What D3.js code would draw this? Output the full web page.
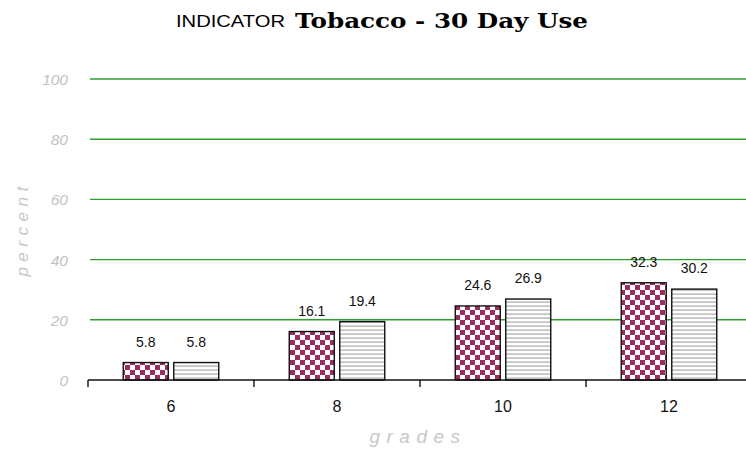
<!DOCTYPE html>
<html>
<head>
<meta charset="utf-8">
<script src="https://cdn.jsdelivr.net/npm/d3@7"></script>
<style>
  html, body { margin: 0; padding: 0; background: #fff; }
  svg { display: block; }
</style>
</head>
<body>
<svg id="chart" width="746" height="451"></svg>
<script>
// Tobacco use in the past 30 days, by grade
const grades = ["6", "8", "10", "12"];
const seriesA = [5.8, 16.1, 24.6, 32.3];   // checkered bars
const seriesB = [5.8, 19.4, 26.9, 30.2];   // striped bars
const yTicks = [0, 20, 40, 60, 80, 100];

const svg = d3.select("#chart");
const W = 746, H = 451;
const left = 88, bandW = 166, y0 = 380, y100 = 79;
const sans = "Arial, 'Liberation Sans', sans-serif";

const x = d3.scaleBand().domain(grades).range([left, left + bandW * grades.length]).paddingInner(0).paddingOuter(0);
const y = d3.scaleLinear().domain([0, 100]).range([y0, y100]);

// fill patterns
const defs = svg.append("defs");
const chk = defs.append("pattern").attr("id", "checker")
  .attr("patternUnits", "userSpaceOnUse").attr("width", 10).attr("height", 10);
chk.append("rect").attr("width", 10).attr("height", 10).attr("fill", "#fff");
chk.append("rect").attr("width", 5).attr("height", 5).attr("fill", "#9c2b60");
chk.append("rect").attr("x", 5).attr("y", 5).attr("width", 5).attr("height", 5).attr("fill", "#9c2b60");

const str = defs.append("pattern").attr("id", "stripes")
  .attr("patternUnits", "userSpaceOnUse").attr("width", 8).attr("height", 4);
str.append("rect").attr("width", 8).attr("height", 4).attr("fill", "#fff");
str.append("rect").attr("y", 1.5).attr("width", 8).attr("height", 1.2).attr("fill", "#a8a8a8");

// title
svg.append("text").attr("x", 176).attr("y", 27)
  .attr("font-family", sans).attr("font-size", 16)
  .attr("textLength", 109).attr("lengthAdjust", "spacingAndGlyphs")
  .attr("fill", "#000").text("INDICATOR");
svg.append("text").attr("x", 295).attr("y", 28)
  .attr("font-family", "'DejaVu Serif', 'Liberation Serif', serif")
  .attr("font-weight", "bold").attr("font-size", 21)
  .attr("textLength", 293).attr("lengthAdjust", "spacingAndGlyphs")
  .attr("fill", "#000").text("Tobacco - 30 Day Use");

// gridlines
svg.append("g").selectAll("line").data(yTicks.filter(d => d > 0)).join("line")
  .attr("x1", left + 2).attr("x2", W).attr("y1", d => y(d)).attr("y2", d => y(d))
  .attr("stroke", "#2f9e2f").attr("stroke-width", 1.4);

// y tick labels
svg.append("g").selectAll("text").data(yTicks).join("text")
  .attr("x", 68).attr("y", d => y(d) + 6)
  .attr("text-anchor", "end")
  .attr("font-family", sans)
  .attr("font-style", "italic").attr("font-size", 15.5).attr("fill", "#c2c2c2")
  .text(d => d);

// y axis title
svg.append("text")
  .attr("transform", `translate(28,229) rotate(-90)`)
  .attr("text-anchor", "middle")
  .attr("font-family", sans)
  .attr("font-style", "italic").attr("font-size", 17).attr("letter-spacing", 5.5)
  .attr("fill", "#c8c8c8").text("percent");

// bars
const barW = 45, gap = 5.5;
const barData = grades.flatMap((g, i) => [
  { g, v: seriesA[i], k: 0 },
  { g, v: seriesB[i], k: 1 }
]);
const bx = d => x(d.g) + x.bandwidth() / 2 + (d.k === 0 ? -(gap / 2 + barW) : gap / 2);

svg.append("g").selectAll("rect").data(barData).join("rect")
  .attr("x", bx).attr("y", d => y(d.v))
  .attr("width", barW).attr("height", d => y(0) - y(d.v))
  .attr("fill", d => d.k === 0 ? "url(#checker)" : "url(#stripes)")
  .attr("stroke", "#111").attr("stroke-width", 1.4);

// value labels
svg.append("g").selectAll("text").data(barData).join("text")
  .attr("x", d => bx(d) + barW / 2).attr("y", d => y(d.v) - 16)
  .attr("text-anchor", "middle")
  .attr("font-family", sans)
  .attr("font-size", 14).attr("fill", "#111")
  .text(d => d.v.toFixed(1));

// x axis
const xAxis = svg.append("g").attr("transform", `translate(0,${y0})`)
  .call(d3.axisBottom(x).tickSize(0).tickPadding(21));
xAxis.select(".domain").remove();
xAxis.append("line").attr("x1", left).attr("x2", W).attr("stroke", "#111").attr("stroke-width", 1.4);
xAxis.selectAll(".sep").data(grades).join("line").attr("class", "sep")
  .attr("x1", d => x(d)).attr("x2", d => x(d)).attr("y1", 0).attr("y2", 7)
  .attr("stroke", "#111").attr("stroke-width", 1.4);
xAxis.selectAll(".tick text")
  .attr("font-family", sans)
  .attr("font-size", 16).attr("fill", "#111");

// x axis title
svg.append("text")
  .attr("x", 418).attr("y", 443).attr("text-anchor", "middle")
  .attr("font-family", sans)
  .attr("font-style", "italic").attr("font-size", 19).attr("letter-spacing", 6.5)
  .attr("fill", "#c8c8c8").text("grades");
</script>
</body>
</html>
